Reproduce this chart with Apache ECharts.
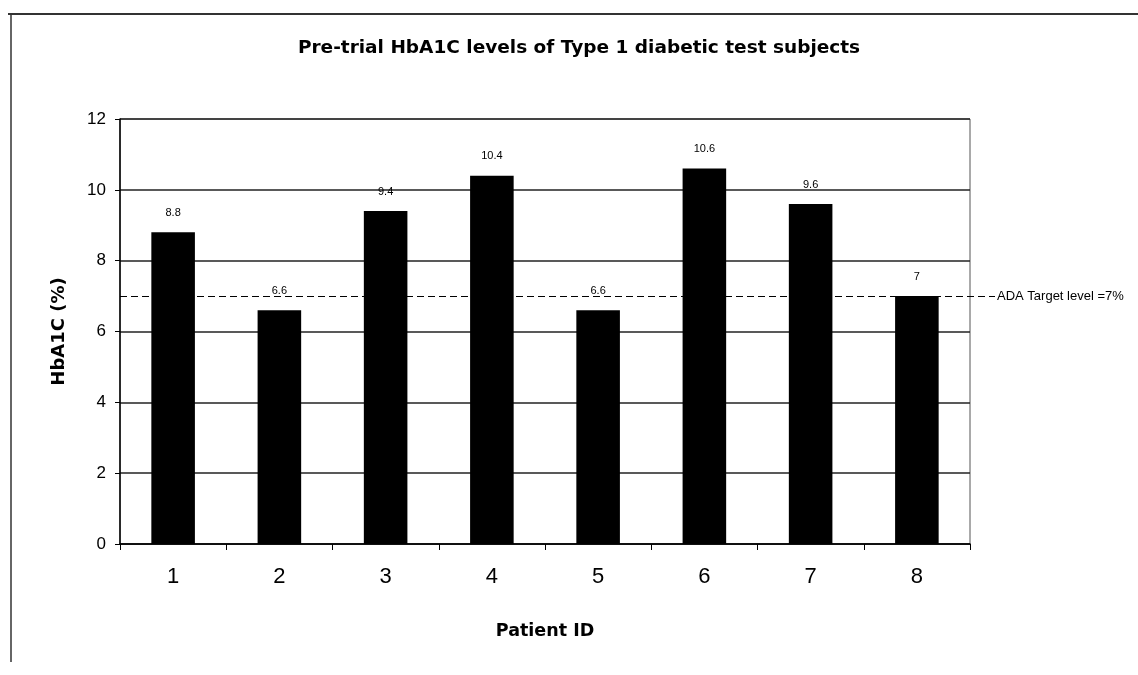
<!DOCTYPE html>
<html><head><meta charset="utf-8">
<script src="https://cdn.jsdelivr.net/npm/echarts@6/dist/echarts.min.js"></script>
<style>html,body{margin:0;padding:0;background:#fff}#c{width:1138px;height:675px}</style>
</head><body><div id="c"></div>
<script>
const categories = ['1','2','3','4','5','6','7','8'];
const hba1cValues = [8.8, 6.6, 9.4, 10.4, 6.6, 10.6, 9.6, 7];
const targetLevel = 7;
const targetLabel = 'ADA Target level =7%';
const yTicks = [0, 2, 4, 6, 8, 10, 12];

const chart = echarts.init(document.getElementById('c'));
const font = 'Liberation Sans, Arial, sans-serif';
const boldFont = 'DejaVu Sans, Liberation Sans, sans-serif';
chart.setOption({
  animation: false,
  backgroundColor: '#fff',
  title: {
    text: 'Pre-trial HbA1C levels of Type 1 diabetic test subjects',
    left: 574, top: 34, textAlign: 'center',
    textStyle: {fontFamily: boldFont, fontSize: 18.5, fontWeight: 'bold', color: '#000'}
  },
  graphic: [
    {type: 'line', shape: {x1: 8, y1: 14, x2: 1138, y2: 14}, style: {stroke: '#333', lineWidth: 2}},
    {type: 'line', shape: {x1: 11, y1: 14, x2: 11, y2: 662}, style: {stroke: '#333', lineWidth: 1.5}}
  ],
  grid: [
    {left: 120, right: 168, top: 119, bottom: 131, show: true, borderColor: '#555', borderWidth: 1},
    {left: 120, right: 143, top: 119, bottom: 131}
  ],
  xAxis: [{
    type: 'category', data: categories, gridIndex: 0,
    name: 'Patient ID', nameLocation: 'middle', nameGap: 78,
    nameTextStyle: {fontFamily: boldFont, fontSize: 17.5, fontWeight: 'bold', color: '#000'},
    axisLine: {lineStyle: {color: '#000', width: 1.5}},
    axisTick: {show: true, inside: false, length: 6, lineStyle: {color: '#000'}},
    axisLabel: {fontFamily: font, fontSize: 22, color: '#000', margin: 22}
  }, {
    type: 'value', gridIndex: 1, min: 0, max: 1, show: false
  }],
  yAxis: [{
    type: 'value', min: 0, max: 12, interval: 2, gridIndex: 0,
    name: 'HbA1C (%)', nameLocation: 'middle', nameGap: 52,
    nameTextStyle: {fontFamily: boldFont, fontSize: 18, fontWeight: 'bold', color: '#000'},
    axisLine: {show: true, lineStyle: {color: '#000', width: 1.5}},
    axisTick: {show: true, length: 5, lineStyle: {color: '#000'}},
    axisLabel: {fontFamily: font, fontSize: 17, color: '#000', margin: 14,
      formatter: v => yTicks.includes(v) ? String(v) : ''},
    splitLine: {show: true, lineStyle: {color: '#222', width: 1.5}}
  }, {
    type: 'value', min: 0, max: 12, gridIndex: 1, show: false
  }],
  series: [{
    type: 'bar', data: hba1cValues, xAxisIndex: 0, yAxisIndex: 0,
    barWidth: '41%',
    itemStyle: {color: '#000'},
    label: {show: true, position: 'top', distance: 14, fontFamily: font, fontSize: 11, color: '#000'}
  }, {
    type: 'line', xAxisIndex: 1, yAxisIndex: 1, data: [], silent: true,
    markLine: {
      symbol: 'none', silent: true,
      lineStyle: {type: [7, 4], color: '#000', width: 1.2},
      label: {show: true, position: 'end', distance: 2, formatter: targetLabel,
        fontFamily: font, fontSize: 13, color: '#000'},
      data: [{yAxis: targetLevel}]
    }
  }]
});
</script></body></html>
